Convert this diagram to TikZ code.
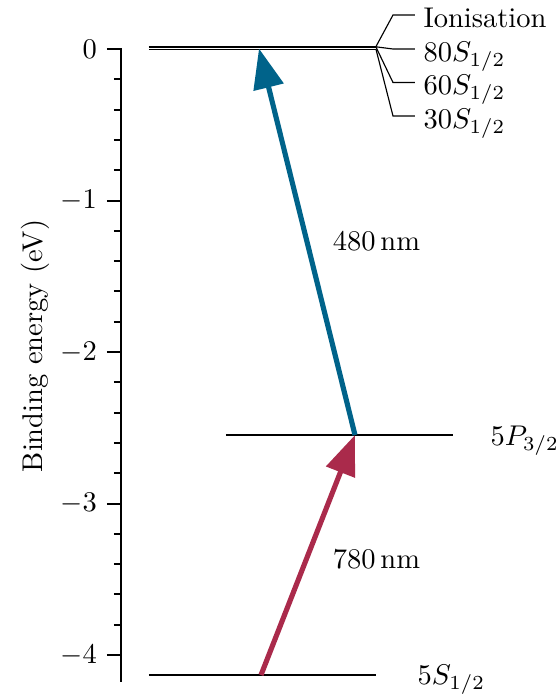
\documentclass[tikz,border=0pt]{standalone}
\usetikzlibrary{arrows.meta}
\definecolor{tranblue}{RGB}{0,99,138}
\definecolor{tranred}{RGB}{170,42,75}
\begin{document}
\begin{tikzpicture}[x=0.350877pt,y=-0.350877pt,
  levelline/.style={line width=0.4pt},
  leaderline/.style={line width=0.4pt},
  axisline/.style={line width=0.7pt},
  transition/.style={line width=1.8pt,-{Triangle[length=14pt,width=10.5pt]}},
  lbl/.style={inner sep=0pt,anchor=base west},
  ticklbl/.style={anchor=east}]
\useasboundingbox (0,0) rectangle (559,698);

% axis
\draw[axisline] (107,49) -- (121,49) -- (121,682);
\foreach \k in {1,...,4}{
  \pgfmathsetmacro\yy{49+151.5*\k}
  \draw[axisline] (107,\yy) -- (121,\yy);
  \node[ticklbl] (t\k) at (107,\yy) {$-\k$};
}
\node[ticklbl] (t0) at (107,49) {$0$};
\foreach \i in {1,2,3,4,6,7,8,9,11,12,13,14,16,17,18,19}{
  \pgfmathsetmacro\yy{49+30.3*\i}
  \draw[axisline] (114,\yy) -- (121,\yy);
}
\node[rotate=90,anchor=base] (ylabel) at (43,346) {Binding energy (eV)};

% Rydberg levels
\coordinate (ionL) at (149,46.5);  \coordinate (ionR) at (376,46.5);
\coordinate (r80L) at (149,46.8);  \coordinate (r80R) at (376,46.8);
\coordinate (r60L) at (149,47.1);  \coordinate (r60R) at (376,47.1);
\coordinate (r30L) at (149,49.3);  \coordinate (r30R) at (376,49.3);
\draw[levelline] (ionL) -- (ionR);
\draw[levelline] (r80L) -- (r80R);
\draw[levelline] (r60L) -- (r60R);
\draw[levelline] (r30L) -- (r30R);

\node[lbl] (ion) at (423,27) {Ionisation};
\node[lbl] (n80) at (423,61) {$80S_{1/2}$};
\node[lbl] (n60) at (423,94.5) {$60S_{1/2}$};
\node[lbl] (n30) at (423,128) {$30S_{1/2}$};
\draw[leaderline] (ionR) -- ([shift={(-30,-12)}]ion.base west) -- ([shift={(-8,-12)}]ion.base west);
\draw[leaderline] (r80R) -- ([shift={(-30,-12)}]n80.base west) -- ([shift={(-8,-12)}]n80.base west);
\draw[leaderline] (r60R) -- ([shift={(-30,-12)}]n60.base west) -- ([shift={(-8,-12)}]n60.base west);
\draw[leaderline] (r30R) -- ([shift={(-30,-12)}]n30.base west) -- ([shift={(-8,-12)}]n30.base west);

% 5P3/2
\draw[levelline] (226,435) -- (453,435);
\node[lbl] (p32) at (490,445) {$5P_{3/2}$};
% 5S1/2
\draw[levelline] (149,675) -- (376,675);
\node[lbl] (s12) at (417,684) {$5S_{1/2}$};

% transitions
\coordinate (gS) at (261,675);
\coordinate (eP) at (355,435);
\coordinate (ryd) at (259,48.5);
\draw[transition,tranred] (gS) -- (eP);
\draw[transition,tranblue] (eP) -- (ryd);
\node[anchor=base] (l480) at (376.5,250) {480\,nm};
\node[anchor=base] (l780) at (376.5,568) {780\,nm};
\end{tikzpicture}
\end{document}
